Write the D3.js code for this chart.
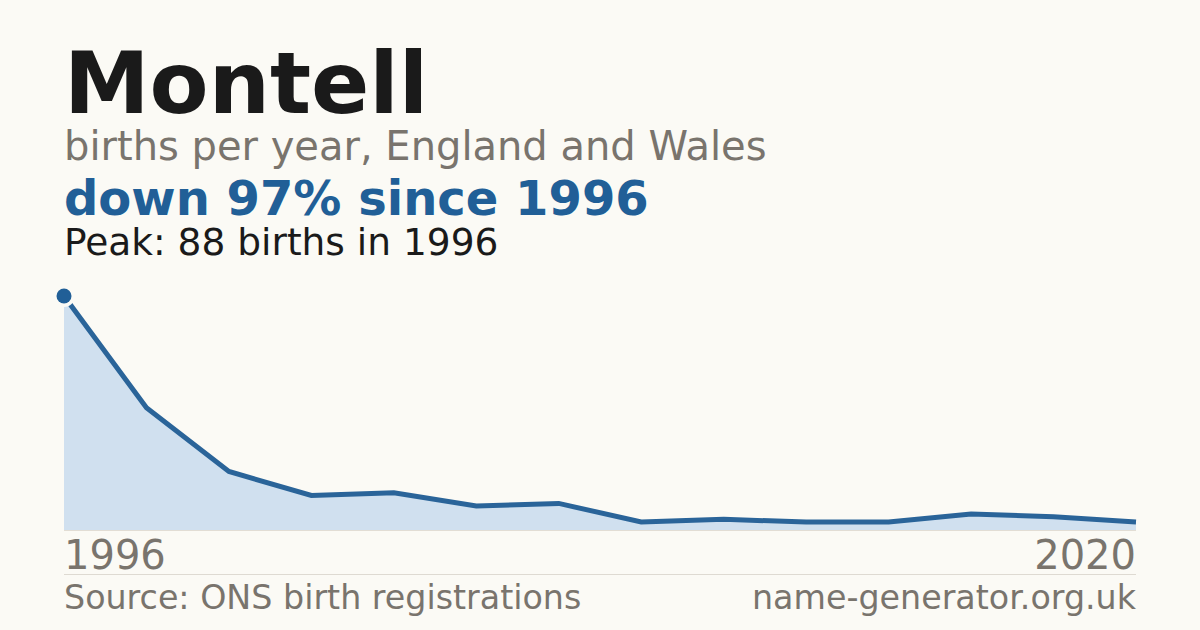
<!DOCTYPE html>
<html>
<head>
<meta charset="utf-8">
<script src="https://cdn.jsdelivr.net/npm/d3@7"></script>
<style>
  body { margin: 0; background: #fbfaf5; }
  svg { display: block; font-family: "DejaVu Sans", sans-serif; }
</style>
</head>
<body>
<div id="chart"></div>
<script>
// Data
const years = [1996, 1997, 1998, 1999, 2000, 2001, 2002, 2003, 2005, 2007, 2010, 2013, 2017, 2020];
const births = [88, 46, 22, 13, 14, 9, 10, 3, 4, 3, 3, 6, 5, 3];
const axisLabels = ["1996", "2020"];

const W = 1200, H = 630;
const margin = { top: 296, right: 64, bottom: 100, left: 64 };
const innerW = W - margin.left - margin.right;
const innerH = H - margin.top - margin.bottom;

const bg = "#fbfaf5";
const blue = "#215f97";
const grey = "#79746d";

const svg = d3.select("#chart").append("svg")
    .attr("width", W)
    .attr("height", H);

svg.append("rect")
    .attr("width", W)
    .attr("height", H)
    .attr("fill", bg);

// ----- Heading -----
svg.append("text")
    .attr("x", 64).attr("y", 113)
    .style("font-size", "86px")
    .style("font-weight", "bold")
    .attr("fill", "#1a1a1a")
    .text("Montell");

svg.append("text")
    .attr("x", 64).attr("y", 160)
    .style("font-size", "40px")
    .attr("fill", grey)
    .text("births per year, England and Wales");

const peakIdx = births.indexOf(d3.max(births));
const last = births[births.length - 1];
const drop = Math.round((1 - last / births[0]) * 100);

svg.append("text")
    .attr("x", 64).attr("y", 215)
    .style("font-size", "48px")
    .style("font-weight", "bold")
    .attr("fill", blue)
    .text("down " + drop + "% since " + years[0]);

svg.append("text")
    .attr("x", 64).attr("y", 255)
    .style("font-size", "37.5px")
    .attr("fill", "#1a1a1a")
    .text("Peak: " + births[peakIdx] + " births in " + years[peakIdx]);

// ----- Chart -----
const g = svg.append("g")
    .attr("transform", `translate(${margin.left},${margin.top})`);

const x = d3.scalePoint()
    .domain(years)
    .range([0, innerW]);

const y = d3.scaleLinear()
    .domain([0, d3.max(births)])
    .range([innerH, 0]);

const points = years.map((yr, i) => ({ year: yr, value: births[i] }));

g.append("path")
    .datum(points)
    .attr("fill", "#d0e0ef")
    .attr("d", d3.area()
        .x(d => x(d.year))
        .y0(innerH)
        .y1(d => y(d.value)));

g.append("line")
    .attr("x1", 0).attr("x2", innerW)
    .attr("y1", innerH + 0.5).attr("y2", innerH + 0.5)
    .attr("stroke", "#e2ddd4")
    .attr("stroke-width", 1);

g.append("path")
    .datum(points)
    .attr("fill", "none")
    .attr("stroke", "#2a6499")
    .attr("stroke-width", 5)
    .attr("d", d3.line()
        .x(d => x(d.year))
        .y(d => y(d.value)));

// peak marker: background halo, then the dot
g.append("circle")
    .attr("cx", x(years[peakIdx]))
    .attr("cy", y(births[peakIdx]))
    .attr("r", 11)
    .attr("fill", bg);

g.append("circle")
    .attr("cx", x(years[peakIdx]))
    .attr("cy", y(births[peakIdx]))
    .attr("r", 7.5)
    .attr("fill", blue);

// first / last year labels
g.append("text")
    .attr("x", x(years[0])).attr("y", innerH + 39)
    .style("font-size", "40px")
    .attr("fill", grey)
    .text(axisLabels[0]);

g.append("text")
    .attr("x", x(years[years.length - 1])).attr("y", innerH + 39)
    .attr("text-anchor", "end")
    .style("font-size", "40px")
    .attr("fill", grey)
    .text(axisLabels[1]);

// ----- Footer -----
svg.append("line")
    .attr("x1", 64).attr("x2", 1136)
    .attr("y1", 574.5).attr("y2", 574.5)
    .attr("stroke", "#dedad2")
    .attr("stroke-width", 1);

svg.append("text")
    .attr("x", 64).attr("y", 609)
    .style("font-size", "33.3px")
    .attr("fill", grey)
    .text("Source: ONS birth registrations");

svg.append("text")
    .attr("x", 1136).attr("y", 609)
    .attr("text-anchor", "end")
    .style("font-size", "33.3px")
    .attr("fill", grey)
    .text("name-generator.org.uk");
</script>
</body>
</html>
